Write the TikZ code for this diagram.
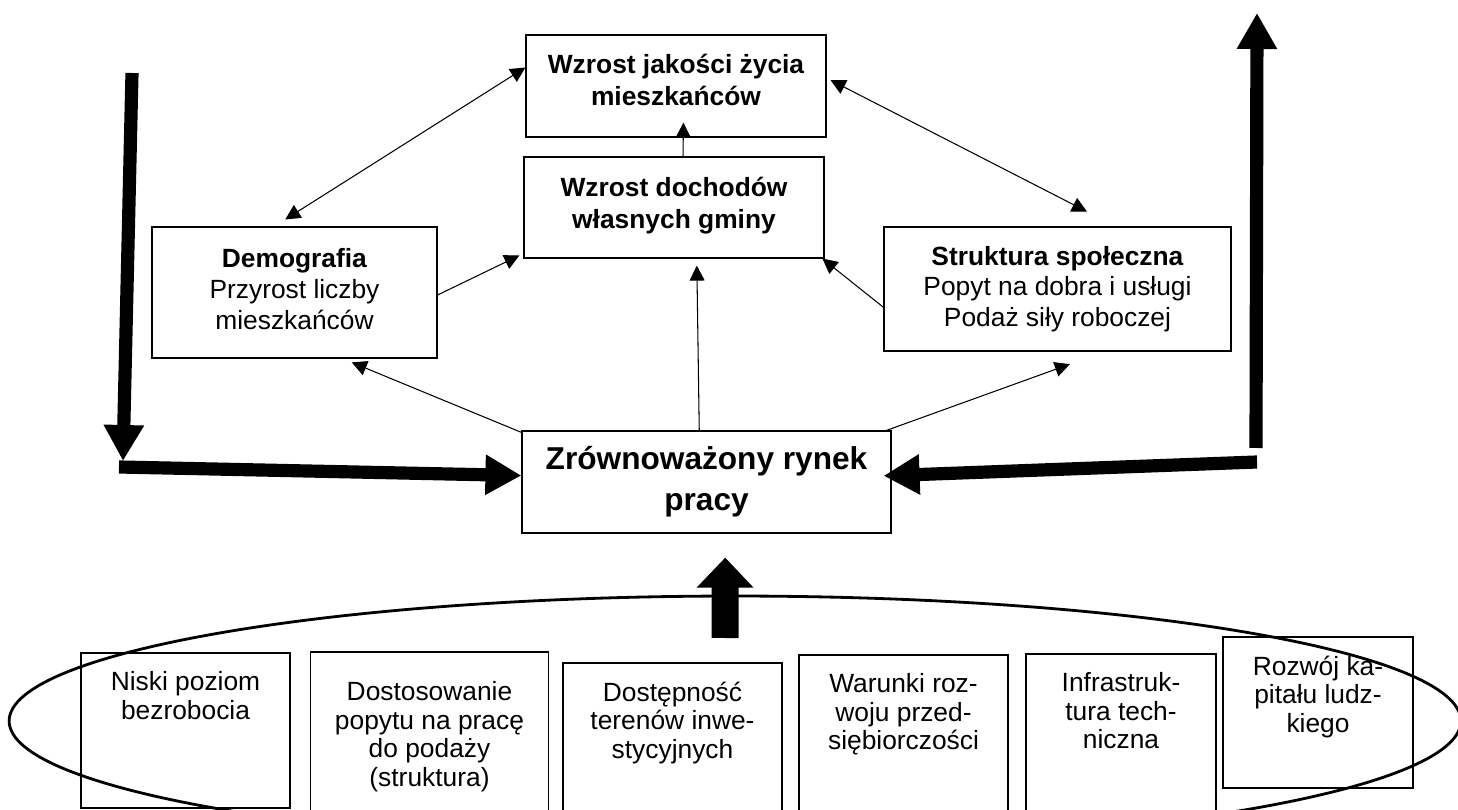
\documentclass[tikz,border=0pt]{standalone}
\usepackage{fontspec}
\setmainfont{Liberation Sans}
\usepackage{tikz}
\usetikzlibrary{arrows.meta}
\tikzset{>={Triangle[length=0.3cm,width=0.3cm]}}
\tikzset{
  box/.style={draw, line width=0.7pt, inner sep=0pt, align=center,
    font=\fontsize{15}{17.5}\selectfont},
  boldbox/.style={box, font=\fontsize{15}{18.3}\selectfont\bfseries},
  lowbox/.style={draw, line width=0.7pt, inner sep=0pt},
  lowtext/.style={anchor=north, yshift=-0.38cm, inner sep=0pt, align=center,
    font=\fontsize{15}{16.2}\selectfont},
  link/.style={line width=0.6pt},
  fat/.style={line width=7.5pt, -{Triangle[length=0.72cm,width=0.76cm]}},
}

\begin{document}
\begin{tikzpicture}[x=0.02cm, y=-0.02cm]
\useasboundingbox (0,0) rectangle (1458,810);
\clip (0,0) rectangle (1458,810);

% upper part
\node[boldbox, minimum width=6cm, minimum height=2.04cm, text depth=0.25cm] (jakosc) at (676,86)
  {Wzrost jakości życia\\mieszkańców};
\node[boldbox, minimum width=6cm, minimum height=2.02cm, text depth=0.2cm] (dochody) at (674,207.5)
  {Wzrost dochodów\\własnych gminy};
\node[box, minimum width=5.7cm, minimum height=2.62cm, text depth=0.15cm] (demografia) at (294.5,292.5)
  {\textbf{Demografia}\\Przyrost liczby\\mieszkańców};
\node[box, minimum width=6.94cm, minimum height=2.48cm] (struktura) at (1057.5,289)
  {\textbf{Struktura społeczna}\\Popyt na dobra i usługi\\Podaż siły roboczej};
\node[box, minimum width=7.38cm, minimum height=2.04cm, font=\fontsize{18}{23.5}\selectfont\bfseries] (rynek) at (706.5,482)
  {Zrównoważony rynek\\pracy};

\draw[link,->,shorten >=-0.3cm] (dochody.80) -- (jakosc.-82);
\draw[link,<->,shorten <=0.26cm] (demografia.107.5) -- (jakosc.173.7);
\draw[link,<->,shorten <=0.09cm,shorten >=0.65cm] (jakosc.3.8) -- (struktura.47.3);
\draw[link,->,shorten >=0.09cm] (demografia.-1) -- (dochody.-163.1);
\draw[link,->] (struktura.186.9) -- (dochody.-19.1);
\draw[link,->,shorten >=0.14cm] (rynek.98.4) -- (dochody.-66.6);
\draw[link,->,shorten >=0.2cm] (rynek.165.7) -- (demografia.-54.9);
\draw[link,->,shorten >=0.74cm] (rynek.16.5) -- (struktura.-53.8);

% thick arrows
\coordinate (lewyG) at (132,73);
\coordinate (lewyD) at (123,461);
\coordinate (lewyP) at (119,467);
\draw[fat] (lewyG) -- (lewyD);
\draw[fat] (lewyP) -- (rynek.178);
\coordinate (prawyD) at (1256,448);
\coordinate (prawyG) at (1257,13);
\coordinate (prawyP) at (1257,462);
\draw[fat] (prawyD) -- (prawyG);
\draw[fat, shorten >=-0.16cm] (prawyP) -- (rynek.2);
\coordinate (dolS) at (725,638);
\draw[line width=0.54cm, -{Triangle[length=0.6cm,width=1.1cm]}, shorten >=0.48cm] (dolS) -- (rynek.-70);

% lower part
\draw[line width=1.6pt] (735,721) ellipse [x radius=14.52cm, y radius=2.5cm];
\node[lowbox, minimum width=4.18cm, minimum height=3.1cm,
  label={[lowtext]north:Niski poziom\\bezrobocia}] (niski) at (185.5,730.5) {};
\node[lowbox, minimum width=4.76cm, minimum height=3.2cm,
  label={[lowtext, yshift=-0.22cm]north:Dostosowanie\\popytu na pracę\\do podaży\\(struktura)}] (dostos) at (429.5,732) {};
\node[lowbox, minimum width=4.38cm, minimum height=2.98cm,
  label={[lowtext]north:Dostępność\\terenów inwe-\\stycyjnych}] (tereny) at (672.5,737.5) {};
\node[lowbox, minimum width=4.18cm, minimum height=3.14cm,
  label={[lowtext]north:Warunki roz-\\woju przed-\\siębiorczości}] (warunki) at (903.5,733.5) {};
\node[lowbox, minimum width=3.8cm, minimum height=3.16cm,
  label={[lowtext]north:Infrastruk-\\tura tech-\\niczna}] (infra) at (1121,733) {};
\node[lowbox, minimum width=3.8cm, minimum height=3.02cm,
  label={[lowtext]north:Rozwój ka-\\pitału ludz-\\kiego}] (kapital) at (1318,712.5) {};
\end{tikzpicture}
\end{document}
